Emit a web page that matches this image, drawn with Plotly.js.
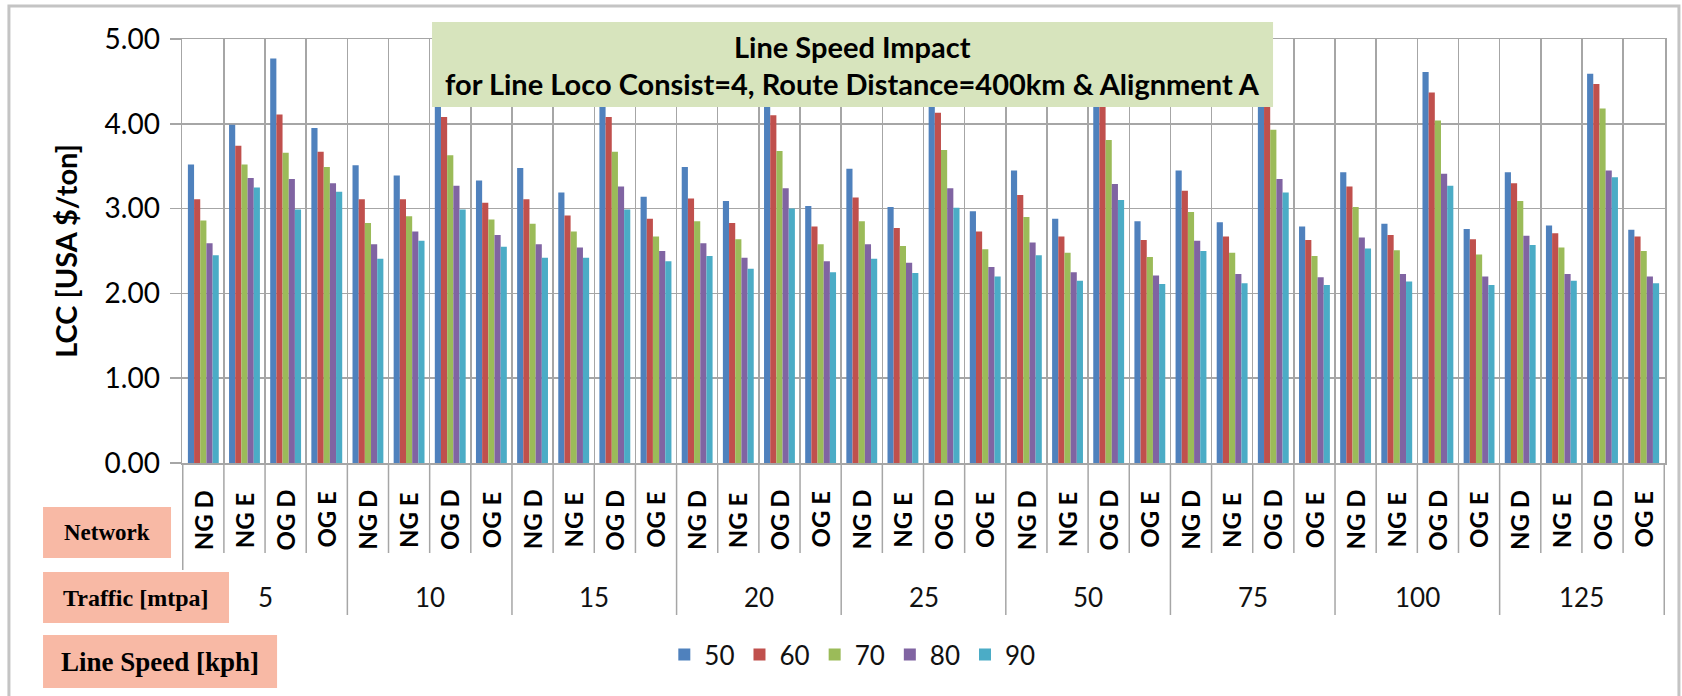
<!DOCTYPE html>
<html>
<head>
<meta charset="utf-8">
<script src="https://cdn.plot.ly/plotly-3.0.1.min.js"></script>
<style>html,body{margin:0;padding:0;background:#fff;}#chart{width:1682px;height:696px;}</style>
</head>
<body>
<div id="chart"></div>
<script>
// ---- data ----
const traffic = ['5', '10', '15', '20', '25', '50', '75', '100', '125'];
const network = ['NG D', 'NG E', 'OG D', 'OG E'];
const speeds = ['50', '60', '70', '80', '90'];

// LCC [USA $/ton], order: traffic x network
const lcc50 = [3.52, 3.99, 4.77, 3.95,  3.51, 3.39, 4.73, 3.33,  3.48, 3.19, 4.70, 3.14,
               3.49, 3.09, 4.68, 3.03,  3.47, 3.02, 4.66, 2.97,  3.45, 2.88, 4.64, 2.85,
               3.45, 2.84, 4.62, 2.79,  3.43, 2.82, 4.61, 2.76,  3.43, 2.80, 4.59, 2.75];
const lcc60 = [3.11, 3.74, 4.11, 3.67,  3.11, 3.11, 4.08, 3.07,  3.11, 2.92, 4.08, 2.88,
               3.12, 2.83, 4.10, 2.79,  3.13, 2.77, 4.13, 2.73,  3.16, 2.67, 4.21, 2.63,
               3.21, 2.67, 4.29, 2.63,  3.26, 2.69, 4.37, 2.64,  3.30, 2.71, 4.47, 2.67];
const lcc70 = [2.86, 3.52, 3.66, 3.49,  2.83, 2.91, 3.63, 2.87,  2.82, 2.73, 3.67, 2.67,
               2.85, 2.64, 3.68, 2.58,  2.85, 2.56, 3.69, 2.52,  2.90, 2.48, 3.81, 2.43,
               2.96, 2.48, 3.93, 2.44,  3.02, 2.51, 4.04, 2.46,  3.09, 2.54, 4.18, 2.50];
const lcc80 = [2.59, 3.36, 3.35, 3.30,  2.58, 2.73, 3.27, 2.69,  2.58, 2.54, 3.26, 2.50,
               2.59, 2.42, 3.24, 2.38,  2.58, 2.36, 3.24, 2.31,  2.60, 2.25, 3.29, 2.21,
               2.62, 2.23, 3.35, 2.19,  2.66, 2.23, 3.41, 2.20,  2.68, 2.23, 3.45, 2.20];
const lcc90 = [2.45, 3.25, 2.99, 3.20,  2.41, 2.62, 2.99, 2.55,  2.42, 2.42, 2.99, 2.38,
               2.44, 2.29, 3.00, 2.25,  2.41, 2.24, 3.01, 2.20,  2.45, 2.15, 3.10, 2.11,
               2.50, 2.12, 3.19, 2.10,  2.53, 2.14, 3.27, 2.10,  2.57, 2.15, 3.37, 2.12];

const titleLine1 = 'Line Speed Impact';
const titleLine2 = 'for Line Loco Consist=4, Route Distance=400km & Alignment A';
const yTitle = 'LCC [USA $/ton]';
const rowLabels = ['Network', 'Traffic [mtpa]', 'Line Speed [kph]'];

// ---- build ----
const categories = [];
traffic.forEach(t => network.forEach(n => categories.push(t + ' | ' + n)));
const series = [lcc50, lcc60, lcc70, lcc80, lcc90];
const colors = ['#4F81BD', '#C0504D', '#9BBB59', '#8064A2', '#4BACC6'];

const traces = series.map((vals, i) => ({
  type: 'bar',
  name: speeds[i],
  x: categories,
  y: vals,
  marker: {color: colors[i], line: {width: 0}},
  hoverinfo: 'x+y+name'
}));

const gridCol = '#a6a6a6';
const FONT = 'Lato, "Open Sans", sans-serif';

const shapes = [];
const annotations = [];

// separators below the category axis
const nCat = categories.length;
for (let k = 0; k <= nCat; k++) {
  let y1;
  if (k === 0) y1 = -0.2524;
  else if (k % network.length === 0) y1 = -0.3585;
  else y1 = -0.2123;
  shapes.push({type: 'line', xref: 'x', yref: 'paper', x0: k - 0.5, x1: k - 0.5, y0: 0, y1: y1,
               line: {color: gridCol, width: 1.5}, layer: 'below'});
}

// network labels
categories.forEach((c, i) => {
  annotations.push({xref: 'x', yref: 'paper', x: c, y: -0.134, text: network[i % network.length],
    textangle: -90, showarrow: false, xanchor: 'center', yanchor: 'middle',
    font: {family: FONT, size: 24, color: '#000', weight: 'bold'}});
});
// traffic labels
traffic.forEach((t, j) => {
  annotations.push({xref: 'x', yref: 'paper', x: j * network.length + (network.length - 1) / 2,
    y: -0.316, text: t, showarrow: false, xanchor: 'center', yanchor: 'middle',
    font: {family: FONT, size: 26, color: '#111'}});
});

// title box
shapes.push({type: 'rect', xref: 'paper', yref: 'paper', x0: 0.1686, x1: 0.7357, y0: 0.8396, y1: 1.0401,
             fillcolor: '#D7E4BD', line: {width: 0}, layer: 'above'});
annotations.push({xref: 'paper', yref: 'paper', x: 0.4521, y: 0.9818, text: titleLine1, showarrow: false,
  xanchor: 'center', yanchor: 'middle', font: {family: FONT, size: 29, color: '#000', weight: 'bold'}});
annotations.push({xref: 'paper', yref: 'paper', x: 0.4521, y: 0.8960, text: titleLine2, showarrow: false,
  xanchor: 'center', yanchor: 'middle', font: {family: FONT, size: 29, color: '#000', weight: 'bold'}});

// pink row label boxes
const boxes = [
  {x0: -0.0937, x1: -0.0074, y0: -0.2241, y1: -0.1038, size: 23},
  {x0: -0.0937, x1: 0.0317, y0: -0.3774, y1: -0.2571, size: 24},
  {x0: -0.0937, x1: 0.0641, y0: -0.5307, y1: -0.4057, size: 27}
];
boxes.forEach((b, i) => {
  shapes.push({type: 'rect', xref: 'paper', yref: 'paper', x0: b.x0, x1: b.x1, y0: b.y0, y1: b.y1,
               fillcolor: '#F8B9A5', line: {width: 0}, layer: 'above'});
  annotations.push({xref: 'paper', yref: 'paper', x: (b.x0 + b.x1) / 2, y: (b.y0 + b.y1) / 2,
    text: rowLabels[i], showarrow: false, xanchor: 'center', yanchor: 'middle',
    font: {family: '"Liberation Serif", "Times New Roman", serif', size: b.size, color: '#000', weight: 'bold'}});
});

// outer frame
shapes.push({type: 'rect', xref: 'paper', yref: 'paper', x0: -0.1167, x1: 1.0094, y0: -0.56, y1: 1.0778,
             line: {color: '#c4c4c4', width: 3}, fillcolor: 'rgba(0,0,0,0)', layer: 'below'});

const layout = {
  width: 1682, height: 696,
  margin: {l: 182, r: 17, t: 39, b: 233},
  paper_bgcolor: '#ffffff', plot_bgcolor: '#ffffff',
  barmode: 'group', bargap: 0.25, bargroupgap: 0,
  showlegend: true,
  legend: {orientation: 'h', x: 0.452, xanchor: 'center', y: -0.452, yanchor: 'middle',
           font: {family: FONT, size: 26, color: '#111'}, traceorder: 'normal', itemwidth: 30},
  xaxis: {type: 'category', tickson: 'boundaries', showgrid: true, gridcolor: gridCol, gridwidth: 1.5,
          showticklabels: false, ticks: '', showline: true, linecolor: gridCol, linewidth: 1.5, mirror: true,
          zeroline: false, fixedrange: true},
  yaxis: {range: [0, 5], tick0: 0, dtick: 1, tickformat: '.2f', showgrid: true, gridcolor: gridCol, gridwidth: 1.5,
          ticks: 'outside', ticklen: 11, tickcolor: gridCol, tickwidth: 1.5, ticklabelstandoff: 4,
          tickfont: {family: FONT, size: 28, color: '#000'},
          showline: true, linecolor: gridCol, linewidth: 1.5, mirror: true, zeroline: false,
          title: {text: yTitle, font: {family: FONT, size: 29, color: '#000', weight: 'bold'}, standoff: 18},
          fixedrange: true},
  shapes: shapes,
  annotations: annotations
};

Plotly.newPlot('chart', traces, layout, {displayModeBar: false, staticPlot: true});
</script>
</body>
</html>
